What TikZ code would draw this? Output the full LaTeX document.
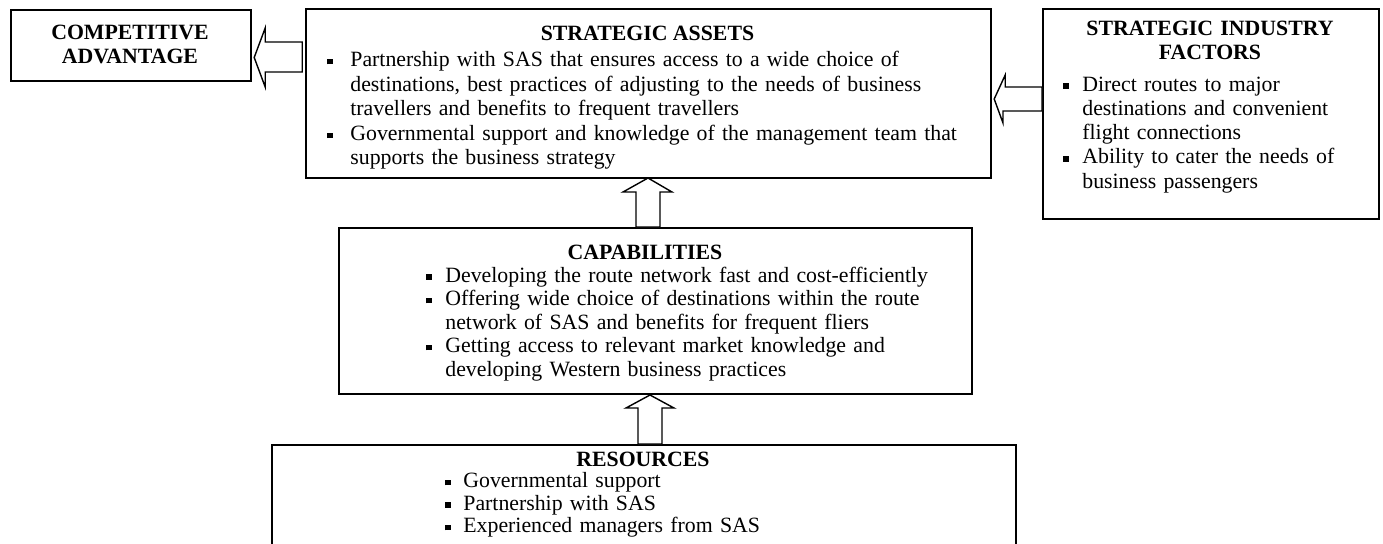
\documentclass[tikz,border=0pt]{standalone}
\usepackage{fontspec}
\setmainfont{Liberation Serif}
\usetikzlibrary{calc}

% one drawing unit = one pixel of the 1383 x 543 canvas
\newlength\px \setlength\px{0.5pt}
\newlength\bgap
\newcommand\sqbullet{\rule[1.1pt]{2.7pt}{2.7pt}}
\newcommand\bl{\makebox[\bgap][l]{\sqbullet}}
\newcommand\cl{\hspace*{\bgap}}
\newcommand\bodyfont[1]{\fontsize{10.9pt}{#1}\selectfont}

\tikzset{
  box/.style={draw, line width=2.2\px, inner sep=0, anchor=north west},
  head/.style={inner sep=0, anchor=base, font=\bfseries\bodyfont{12.3pt}},
  headblock/.style={inner sep=0, anchor=base, align=center, text width=#1,
    font=\bfseries\bodyfont{12.3pt}},
  items/.style={inner sep=0, anchor=base west, align=left, text width=330pt},
  barrow/.style={draw, line width=1.4\px, fill=white, line join=miter},
}

\begin{document}
\begin{tikzpicture}[x=1\px, y=-1\px]
\useasboundingbox (0,0) rectangle (1383,543);
\clip (0,0) rectangle (1383,543);
\fill[white] (0,0) rectangle (1383,543);

% ---- boxes ----
\node[box, minimum width=240\px, minimum height=71\px] (ca) at (10,9) {};
\node[box, minimum width=685\px, minimum height=169\px] (sa) at (305,8) {};
\node[box, minimum width=336\px, minimum height=210\px] (sif) at (1042,8) {};
\node[box, minimum width=633\px, minimum height=166\px] (cap) at (338,227) {};
\node[box, minimum width=744\px, minimum height=140\px] (res) at (271,444) {};

% ---- competitive advantage ----
\node[headblock=200\px] (cat) at (130,39) {COMPETITIVE\\ADVANTAGE};

% ---- strategic assets ----
\node[head] (sah) at (647.5,40) {STRATEGIC ASSETS};
\node[items, font=\bodyfont{12.3pt}] (sat) at (327,66.5) {\setlength\bgap{23\px}%
  \bl Partnership with SAS that ensures access to a wide choice of\\
  \cl destinations, best practices of adjusting to the needs of business\\
  \cl travellers and benefits to frequent travellers\\
  \bl Governmental support and knowledge of the management team that\\
  \cl supports the business strategy};

% ---- strategic industry factors ----
\node[headblock=300\px] (sifh) at (1210,35) {STRATEGIC INDUSTRY\\FACTORS};
\node[items, font=\bodyfont{12.15pt}] (sift) at (1063,91) {\setlength\bgap{19\px}%
  \bl Direct routes to major\\
  \cl destinations and convenient\\
  \cl flight connections\\
  \bl Ability to cater the needs of\\
  \cl business passengers};

% ---- capabilities ----
\node[head] (caph) at (645,259) {CAPABILITIES};
\node[items, font=\bodyfont{11.75pt}] (capt) at (426,282) {\setlength\bgap{19\px}%
  \bl Developing the route network fast and cost-efficiently\\
  \bl\makebox[513\px][s]{Offering wide choice of destinations within the route}\\
  \cl network of SAS and benefits for frequent fliers\\
  \bl\makebox[513\px][s]{Getting access to relevant market knowledge and}\\
  \cl developing Western business practices};

% ---- resources ----
\node[head] (resh) at (643,466) {RESOURCES};
\node[items, font=\bodyfont{11.25pt}] (rest) at (445,487.5) {\setlength\bgap{18\px}%
  \bl Governmental support\\
  \bl Partnership with SAS\\
  \bl Experienced managers from SAS};

% ---- block arrows ----
% strategic assets -> competitive advantage
\draw[barrow] ($(ca.north east)+(2,48.5)$) -- ++(11,-29.5) -- ++(0,14)
  -- ++(37,0) -- ++(0,30) -- ++(-37,0) -- ++(0,15) -- cycle;
% strategic industry factors -> strategic assets
\draw[barrow] ($(sa.north east)+(2,91)$) -- ++(11,-24) -- ++(0,12)
  -- (sif.west |- 0,87) -- (sif.west |- 0,111) -- ++(-39,0) -- ++(0,12) -- cycle;
% capabilities -> strategic assets
\draw[barrow] ($(cap.north west)+(298,0)$) -- ++(0,-35) -- ++(-13,0)
  -- ++(25,-14) -- ++(24,14) -- ++(-12,0) -- ++(0,35) -- cycle;
% resources -> capabilities
\draw[barrow] ($(res.north west)+(367,0)$) -- ++(0,-36) -- ++(-12,0)
  -- ++(24,-13) -- ++(24,13) -- ++(-12,0) -- ++(0,36) -- cycle;
\end{tikzpicture}
\end{document}
